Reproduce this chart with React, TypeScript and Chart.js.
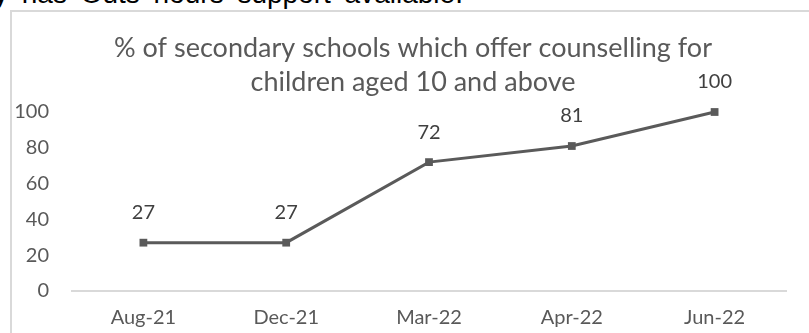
import React, { useEffect, useRef } from "react";
import { Chart, registerables } from "chart.js";

Chart.register(...registerables);

const categories = ["Aug-21", "Dec-21", "Mar-22", "Apr-22", "Jun-22"];
const values = [27, 27, 72, 81, 100];
const yTicks = [0, 20, 40, 60, 80, 100];
const titleLines = [
  "% of secondary schools which offer counselling for",
  "children aged 10 and above",
];
const docText = "y has Outs hours support available.";

const FONT = "Lato, 'Open Sans', sans-serif";
const TEXT_GREY = "#595959";
const LINE_GREY = "#5a5a5a";
const LABEL_GREY = "#404040";

export default function App() {
  const ref = useRef<HTMLCanvasElement>(null);

  useEffect(() => {
    const valueLabels = {
      id: "valueLabels",
      afterDatasetsDraw(chart: any) {
        const ctx = chart.ctx;
        const meta = chart.getDatasetMeta(0);
        ctx.save();
        ctx.font = `20px ${FONT}`;
        ctx.fillStyle = LABEL_GREY;
        ctx.textAlign = "center";
        ctx.textBaseline = "middle";
        meta.data.forEach((pt: any, i: number) => {
          ctx.fillText(String(values[i]), pt.x, pt.y - 30);
        });
        ctx.restore();
      },
    };

    const chartTitle = {
      id: "chartTitle",
      afterDraw(chart: any) {
        const ctx = chart.ctx;
        ctx.save();
        ctx.font = `27px ${FONT}`;
        ctx.fillStyle = TEXT_GREY;
        ctx.textAlign = "center";
        ctx.textBaseline = "middle";
        const cx = 413;
        titleLines.forEach((line, i) => {
          ctx.fillText(line, cx, 48 + i * 34);
        });
        ctx.restore();
      },
    };

    const chart = new Chart(ref.current!, {
      type: "line",
      data: {
        labels: categories,
        datasets: [
          {
            data: values,
            borderColor: LINE_GREY,
            backgroundColor: LINE_GREY,
            borderWidth: 3,
            pointStyle: "rect",
            pointRadius: 5.5,
            pointBorderWidth: 0,
            pointBackgroundColor: LINE_GREY,
            tension: 0,
            clip: false,
          } as any,
        ],
      },
      options: {
        responsive: false,
        animation: false,
        layout: { padding: { left: 0, right: 23, top: 112, bottom: 0 } },
        plugins: {
          legend: { display: false },
          tooltip: { enabled: false },
          title: { display: false },
        },
        scales: {
          x: {
            offset: true,
            grid: { display: false, drawTicks: false },
            border: { display: true, color: "#d9d9d9", width: 2 },
            ticks: { color: TEXT_GREY, font: { family: FONT, size: 20 }, padding: 15, maxRotation: 0 },
            afterFit: (s: any) => {
              s.height = 42;
            },
          },
          y: {
            min: 0,
            max: 100,
            grid: { display: false, drawTicks: false },
            border: { display: false },
            ticks: { color: TEXT_GREY, font: { family: FONT, size: 20 }, padding: 23 },
            afterBuildTicks: (s: any) => {
              s.ticks = yTicks.map((v) => ({ value: v }));
            },
            afterFit: (s: any) => {
              s.width = 72;
            },
          },
        },
      },
      plugins: [valueLabels, chartTitle],
    });
    return () => chart.destroy();
  }, []);

  return (
    <div
      style={{
        position: "fixed",
        left: 0,
        top: 0,
        width: 809,
        height: 333,
        overflow: "hidden",
        background: "#ffffff",
      }}
    >
      <div
        style={{
          position: "absolute",
          left: -6,
          top: -20,
          fontFamily: "'Liberation Sans', Arial, sans-serif",
          fontSize: 28,
          lineHeight: "28px",
          wordSpacing: 6,
          color: "#000000",
          whiteSpace: "nowrap",
        }}
      >
        {docText}
      </div>
      <div
        style={{
          position: "absolute",
          left: 10,
          top: 10,
          width: 900,
          height: 500,
          border: "2px solid #d9d9d9",
          boxSizing: "border-box",
        }}
      />
      <canvas
        ref={ref}
        width={809}
        height={333}
        style={{ position: "absolute", left: 0, top: 0, width: 809, height: 333 }}
      />
    </div>
  );
}
